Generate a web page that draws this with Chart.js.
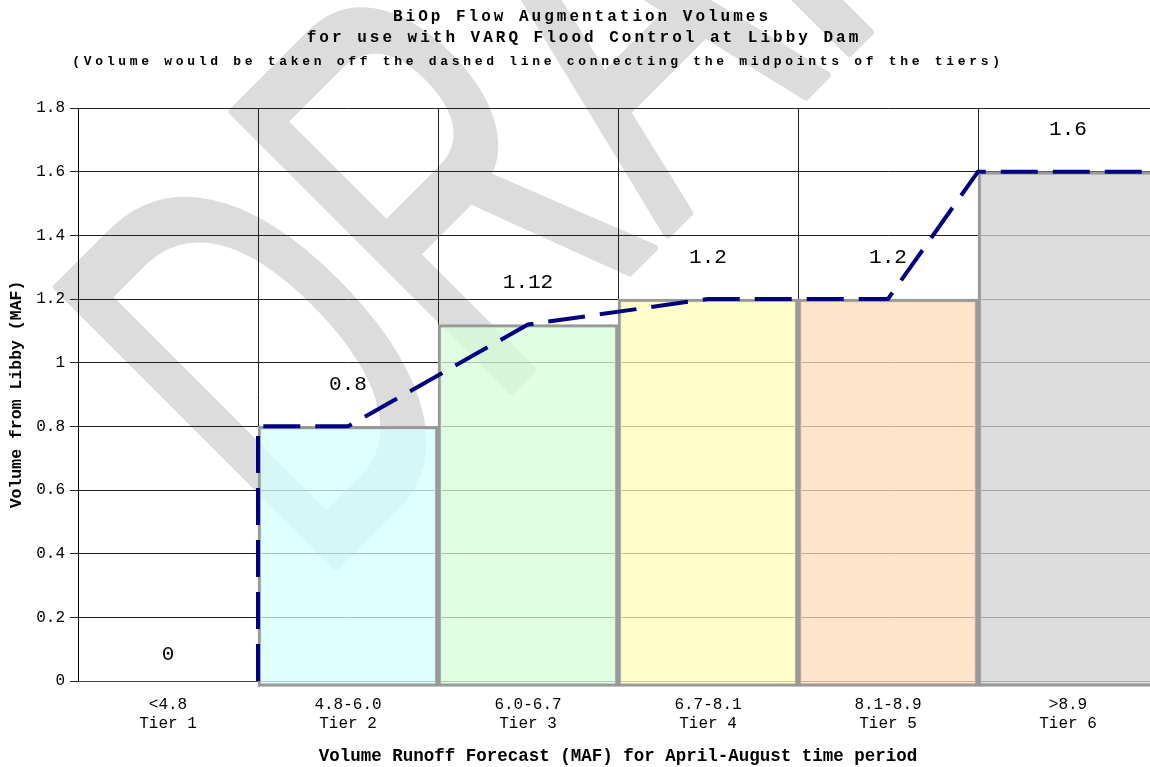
<!DOCTYPE html>
<html>
<head>
<meta charset="utf-8">
<title>BiOp Flow Augmentation Volumes</title>
<script src="https://cdn.jsdelivr.net/npm/chart.js@4.4.1/dist/chart.umd.min.js"></script>
<style>
  html, body { margin: 0; padding: 0; background: #fff; overflow: hidden; }
  #wrap { position: relative; width: 1160px; height: 767px; }
</style>
</head>
<body>
<div id="wrap"><canvas id="chart"></canvas></div>
<script>
"use strict";

// tiers (x axis)
var tierRanges = ['<4.8', '4.8-6.0', '6.0-6.7', '6.7-8.1', '8.1-8.9', '>8.9'];
var tierNames = ['Tier 1', 'Tier 2', 'Tier 3', 'Tier 4', 'Tier 5', 'Tier 6'];
// volume from Libby for each tier (MAF)
var tierVolumes = [0, 0.8, 1.12, 1.2, 1.2, 1.6];
var tierColors = [
    'rgba(255,255,255,0)',
    'rgba(214,255,255,0.75)',
    'rgba(214,254,214,0.75)',
    'rgba(255,255,187,0.75)',
    'rgba(255,219,187,0.75)',
    'rgba(210,210,210,0.75)'
];
var tierBorders = ['rgba(0,0,0,0)', '#999', '#999', '#999', '#999', '#999'];
// dashed line through the midpoints, x in tier units (0 = middle of Tier 1)
var dashX = [0.5, 0.5, 1, 2, 3, 4, 4.5, 5.5];
var dashY = [0, 0.8, 0.8, 1.12, 1.2, 1.2, 1.6, 1.6];
// y axis
var yMin = 0, yMax = 1.8, yStep = 0.2;

var titleLines = [
    'BiOp Flow Augmentation Volumes',
    'for use with VARQ Flood Control at Libby Dam',
    '(Volume would be taken off the dashed line connecting the midpoints of the tiers)'
];

var mono = "'Liberation Mono', 'DejaVu Sans Mono', monospace";

var xLabels = [];
for (var i = 0; i < tierNames.length; i++) {
    xLabels.push([tierRanges[i], tierNames[i]]);
}
var dashPoints = [];
for (var j = 0; j < dashX.length; j++) {
    dashPoints.push({ x: dashX[j], y: dashY[j] });
}

// big DRAFT mark behind the chart (narrow letters, tilted 45 degrees)
var draftMark = {
    id: 'draftMark',
    beforeDraw: function (chart) {
        var ctx = chart.ctx;
        ctx.save();
        ctx.translate(315, 587);
        ctx.rotate(-Math.PI / 4);
        ctx.scale(0.6, 1);
        ctx.font = "573px 'Liberation Sans', Arial, sans-serif";
        ctx.textBaseline = 'alphabetic';
        ctx.fillStyle = '#dcdcdc';
        ctx.strokeStyle = '#dcdcdc';
        ctx.lineWidth = 8;
        ctx.lineJoin = 'round';
        ctx.fillText('DRAFT', 0, 0);
        ctx.strokeText('DRAFT', 0, 0);
        ctx.restore();
    }
};

// titles (wide letter spacing like the original)
var titleBlock = {
    id: 'titleBlock',
    afterDraw: function (chart) {
        var ctx = chart.ctx;
        ctx.save();
        ctx.fillStyle = '#000';
        ctx.textAlign = 'center';
        ctx.textBaseline = 'middle';
        ctx.font = 'bold 16px ' + mono;
        ctx.letterSpacing = '3px';
        ctx.fillText(titleLines[0], 582, 17);
        ctx.fillText(titleLines[1], 584, 38);
        ctx.font = 'bold 13px ' + mono;
        ctx.letterSpacing = '3.7px';
        ctx.fillText(titleLines[2], 538, 62);
        ctx.restore();
    }
};

// value labels above the bars
var barValues = {
    id: 'barValues',
    afterDatasetsDraw: function (chart) {
        var ctx = chart.ctx;
        var meta = chart.getDatasetMeta(0);
        ctx.save();
        ctx.fillStyle = '#000';
        ctx.textAlign = 'center';
        ctx.textBaseline = 'middle';
        ctx.font = '21px ' + mono;
        meta.data.forEach(function (bar, k) {
            var v = tierVolumes[k];
            var off = v ? 42 : 27;
            ctx.fillText(String(v), bar.x, bar.y - off);
        });
        ctx.restore();
    }
};

var ctx = document.getElementById('chart').getContext('2d');
var chart = new Chart(ctx, {
    type: 'bar',
    data: {
        labels: xLabels,
        datasets: [{
            type: 'bar',
            data: tierVolumes,
            backgroundColor: tierColors,
            borderColor: tierBorders,
            borderWidth: 3,
            borderSkipped: false,
            grouped: false,
            categoryPercentage: 1,
            barPercentage: 1,
            base: -0.017,
            clip: { left: 0, top: 0, right: 0, bottom: 8 },
            order: 2
        }, {
            type: 'line',
            data: dashPoints,
            xAxisID: 'x2',
            borderColor: '#000080',
            borderWidth: 4,
            borderDash: [37, 15],
            borderCapStyle: 'butt',
            pointRadius: 0,
            tension: 0,
            fill: false,
            clip: { left: 0, top: 0, right: 0, bottom: 8 },
            order: 1
        }]
    },
    options: {
        responsive: true,
        maintainAspectRatio: false,
        devicePixelRatio: 1,
        animation: false,
        layout: { padding: { top: 108, right: 2, left: 0, bottom: 0 } },
        plugins: {
            legend: { display: false },
            tooltip: { enabled: false }
        },
        scales: {
            x: {
                type: 'category',
                offset: true,
                grid: { offset: true, color: '#222', lineWidth: 1, drawTicks: false },
                border: { color: '#444', width: 1 },
                ticks: {
                    color: '#000',
                    font: { family: mono, size: 16, lineHeight: 1.2 },
                    padding: 14,
                    maxRotation: 0,
                    autoSkip: false
                },
                title: {
                    display: true,
                    text: 'Volume Runoff Forecast (MAF) for April-August time period',
                    color: '#000',
                    font: { family: mono, size: 17.5, weight: 'bold', lineHeight: 1.2 },
                    padding: { top: 4, bottom: 0 }
                },
                afterFit: function (scale) { scale.height = 86; }
            },
            x2: {
                type: 'linear',
                display: false,
                offset: false,
                min: -0.5,
                max: 5.5
            },
            y: {
                min: yMin,
                max: yMax,
                grid: { color: '#222', lineWidth: 1, tickLength: 8, drawTicks: true },
                border: { color: '#000', width: 1 },
                ticks: {
                    stepSize: yStep,
                    color: '#000',
                    padding: 5,
                    font: { family: mono, size: 16 },
                    callback: function (v) { return String(+v.toFixed(1)); }
                },
                title: {
                    display: true,
                    text: 'Volume from Libby (MAF)',
                    color: '#000',
                    font: { family: mono, size: 16.5, weight: 'bold', lineHeight: 1.2 },
                    padding: { top: 7, bottom: 10 }
                },
                afterFit: function (scale) { scale.width = 78; }
            }
        }
    },
    plugins: [draftMark, titleBlock, barValues]
});
</script>
</body>
</html>
